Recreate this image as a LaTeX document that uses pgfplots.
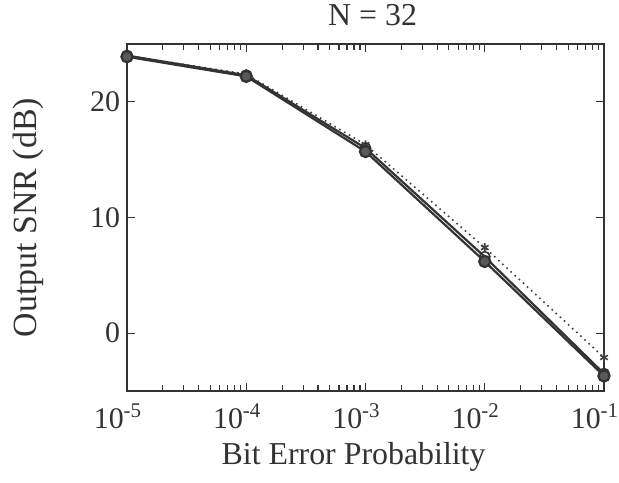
\documentclass[border=0pt]{standalone}
\usepackage{pgfplots}
\pgfplotsset{compat=1.18}
\usepackage{fontspec}
\setmainfont{Liberation Serif}
\begin{document}
\begin{tikzpicture}
\useasboundingbox (-63.5bp,-46bp) rectangle (246bp,195.5bp);
\begin{axis}[
  at={(0,0)}, anchor=south west,
  scale only axis, width=238.5bp, height=173.5bp,
  xmode=log, xmin=1e-5, xmax=1e-1,
  ymin=-5, ymax=25,
  xtick={1e-5,1e-4,1e-3,1e-2,1e-1},
  xticklabels={10\textsuperscript{-5},10\textsuperscript{-4},10\textsuperscript{-3},10\textsuperscript{-2},10\textsuperscript{-1}},
  ytick={0,10,20},
  yticklabels={0,10,20},
  minor y tick num=0,
  tick align=inside,
  major tick length=4bp, minor tick length=3bp,
  every tick/.style={black!80, line width=0.6pt},
  axis line style={black!80, line width=0.8pt},
  tick label style={font=\fontsize{15}{17}\selectfont, text=black!80},
  xticklabel style={anchor=base, yshift=-18.5bp, xshift=-4.5bp},
  title={N = 32},
  title style={font=\fontsize{16}{18}\selectfont, text=black!80, at={(axis description cs:0.515,1.02)}, anchor=base},
  xlabel={Bit Error Probability},
  xlabel style={font=\fontsize{16}{18}\selectfont, text=black!80, at={(axis description cs:0.475,-0.213)}, anchor=base},
  ylabel={Output SNR (dB)},
  ylabel style={font=\fontsize{17}{19}\selectfont, text=black!80, at={(axis description cs:-0.2075,0.5)}, anchor=center},
  clip=false,
]
\addplot[black!75, dotted, line width=0.8pt, mark=asterisk, mark size=2.2pt, mark options={solid, line width=0.8pt}]
  coordinates {(1e-5,24.0) (1e-4,22.4) (1e-3,16.3) (1e-2,7.4) (1e-1,-2.1)};
\addplot[black!80, line width=1.1pt, mark=o, mark size=2.6pt, mark options={line width=0.8pt}]
  coordinates {(1e-5,24.0) (1e-4,22.3) (1e-3,16.0) (1e-2,6.6) (1e-1,-3.5)};
\addplot[black!80, line width=1.1pt, mark=*, mark size=2.8pt, mark options={fill=black!65, draw=black!80}]
  coordinates {(1e-5,23.9) (1e-4,22.2) (1e-3,15.7) (1e-2,6.2) (1e-1,-3.7)};
\end{axis}
\end{tikzpicture}
\end{document}
